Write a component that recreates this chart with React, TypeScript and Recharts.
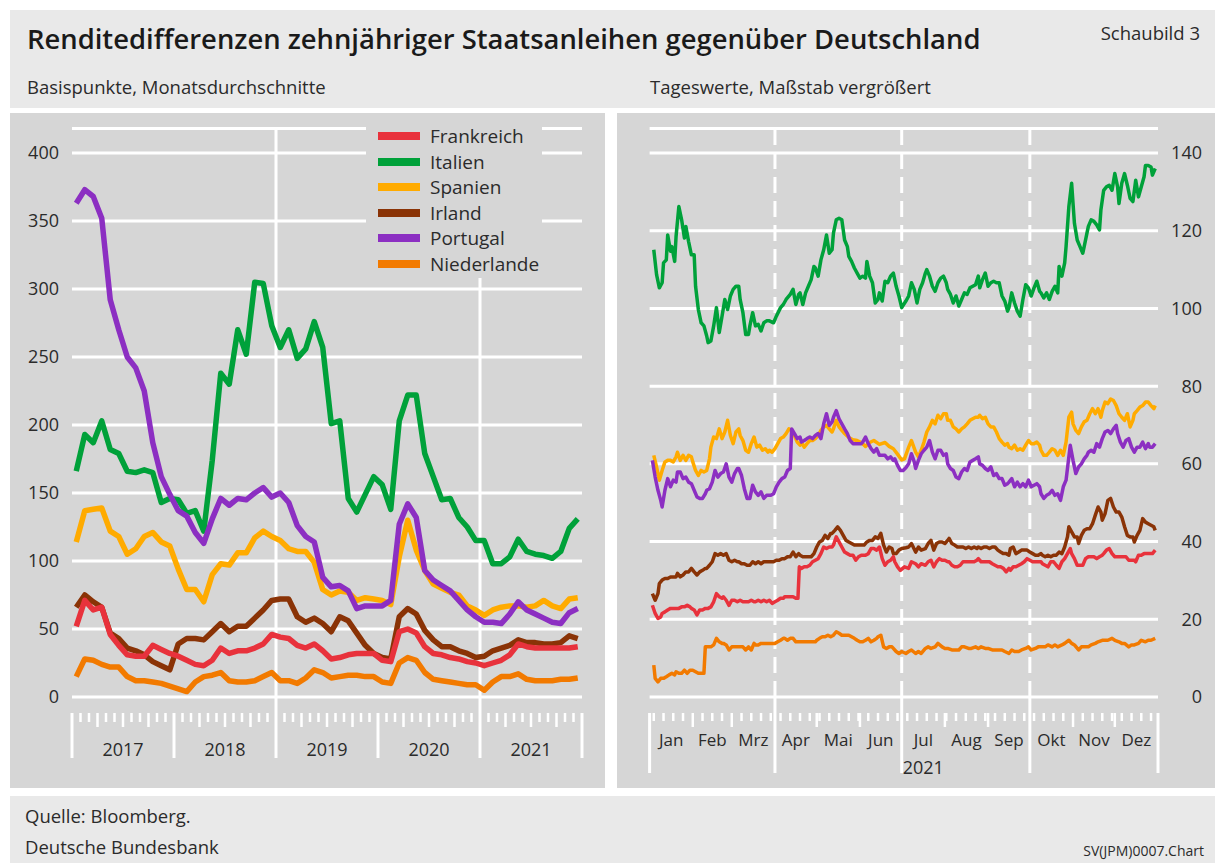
import React from 'react';
import { LineChart, Line, XAxis, YAxis, CartesianGrid, ReferenceLine, Legend } from 'recharts';

const FONT = '"Open Sans", "Noto Sans", "DejaVu Sans", sans-serif';
const TEXT = '#2b2b2b';
const PANEL = '#d6d6d6';
const BAND = '#e9e9e9';

const SERIES = [
  { key: 'fr', name: 'Frankreich', color: '#e8323c' },
  { key: 'it', name: 'Italien', color: '#00a13a' },
  { key: 'es', name: 'Spanien', color: '#ffab00' },
  { key: 'ie', name: 'Irland', color: '#8a3306' },
  { key: 'pt', name: 'Portugal', color: '#8c2fc2' },
  { key: 'nl', name: 'Niederlande', color: '#f27a00' },
];
const DRAW_ORDER = ['it', 'es', 'ie', 'fr', 'nl', 'pt'];

// ---------- Left panel: monthly averages, Jan 2017 – Dec 2021 (basis points) ----------
const yearLabels = ['2017', '2018', '2019', '2020', '2021'];
const leftYTicks = [0, 50, 100, 150, 200, 250, 300, 350, 400];

const frMonthly = [52, 71, 64, 66, 46, 38, 31, 30, 30, 38, 35, 32, 30, 27, 24, 23, 27, 36, 32, 34, 34, 36, 39, 46, 44, 43, 38, 36, 39, 34, 28, 29, 31, 32, 32, 32, 27, 26, 48, 50, 47, 37, 32, 31, 29, 28, 26, 25, 23, 25, 27, 31, 39, 37, 36, 36, 36, 36, 36, 37];
const itMonthly = [166, 193, 187, 203, 182, 179, 166, 165, 167, 165, 143, 146, 145, 135, 137, 122, 174, 238, 230, 270, 252, 305, 304, 273, 257, 270, 249, 256, 276, 257, 201, 203, 146, 136, 149, 162, 156, 138, 203, 222, 222, 179, 162, 145, 146, 132, 125, 115, 115, 98, 98, 103, 116, 107, 105, 104, 102, 107, 124, 131];
const esMonthly = [114, 137, 138, 139, 122, 118, 105, 109, 118, 121, 114, 111, 94, 79, 79, 70, 90, 98, 97, 106, 106, 117, 122, 118, 115, 109, 107, 107, 99, 79, 75, 78, 77, 71, 73, 72, 71, 68, 103, 130, 108, 93, 83, 80, 77, 75, 67, 64, 60, 64, 66, 67, 67, 66, 67, 71, 67, 65, 72, 73];
const ieMonthly = [66, 75, 70, 66, 47, 43, 36, 34, 31, 26, 23, 20, 39, 43, 43, 42, 48, 54, 48, 52, 52, 58, 64, 71, 72, 72, 59, 55, 58, 54, 48, 59, 56, 47, 38, 32, 29, 28, 59, 65, 61, 49, 42, 37, 37, 34, 32, 29, 30, 34, 36, 38, 42, 40, 40, 39, 39, 40, 45, 43];
const ptMonthly = [363, 373, 368, 352, 292, 270, 250, 242, 225, 187, 162, 149, 137, 133, 121, 113, 131, 146, 141, 146, 145, 150, 154, 147, 150, 143, 126, 118, 114, 88, 81, 82, 78, 65, 67, 67, 67, 71, 127, 142, 132, 93, 86, 82, 78, 71, 64, 59, 55, 55, 54, 61, 70, 64, 61, 58, 55, 54, 62, 65];
const nlMonthly = [15, 28, 27, 24, 22, 22, 15, 12, 12, 11, 10, 8, 6, 4, 11, 15, 16, 18, 12, 11, 11, 12, 15, 18, 12, 12, 10, 14, 20, 18, 14, 15, 16, 16, 15, 15, 11, 10, 25, 29, 27, 18, 13, 12, 11, 10, 9, 9, 5, 11, 15, 15, 17, 13, 12, 12, 12, 13, 13, 14];

const leftData = frMonthly.map((_, i) => ({
  m: i + 0.5,
  fr: frMonthly[i],
  it: itMonthly[i],
  es: esMonthly[i],
  ie: ieMonthly[i],
  pt: ptMonthly[i],
  nl: nlMonthly[i],
}));
const leftXTicks = Array.from({ length: 61 }, (_, i) => i);

// ---------- Right panel: daily values 2021 (day of year, basis points) ----------
const monthNames = ['Jan', 'Feb', 'Mrz', 'Apr', 'Mai', 'Jun', 'Jul', 'Aug', 'Sep', 'Okt', 'Nov', 'Dez'];
const monthStarts = [0, 31, 59, 90, 120, 151, 181, 212, 243, 273, 304, 334, 365];
const quarterStarts = [0, 90, 181, 273, 365];
const rightYTicks = [0, 20, 40, 60, 80, 100, 120, 140];

const itDaily: [number, number][] = [[3,115.1],[5,108.7],[7,105.3],[9,106.6],[10,111.7],[12,112.5],[13,118.9],[15,114.7],[16,115.9],[18,112.1],[19,118.5],[21,126.2],[23,122.8],[25,118.1],[26,121.1],[28,117.2],[30,113.8],[32,113.8],[33,105.7],[35,99.7],[37,96.3],[39,95.5],[41,92.9],[42,91.2],[44,91.6],[46,95.5],[48,100.2],[50,93.8],[52,98],[54,102.3],[56,99.7],[58,103.2],[60,104.9],[62,105.7],[64,105.7],[65,102.3],[67,98.9],[69,93.3],[71,93.3],[72,95.5],[74,98.9],[76,95.5],[78,95.9],[80,94.2],[82,96.3],[84,96.8],[86,96.8],[89,96.3],[91,98],[94,100.2],[96,101],[98,102.3],[101,103.6],[103,104.9],[105,101],[107,103.6],[108,104],[110,101],[112,104],[114,105.7],[116,107.4],[118,110.8],[119,110.4],[121,108.3],[123,112.5],[125,115.1],[127,118.9],[129,114.2],[131,115.1],[132,119.4],[134,122.8],[136,123.2],[138,122.8],[140,117.6],[142,115.9],[143,113.4],[145,112.1],[147,110.4],[149,109.1],[151,107.8],[153,108.3],[155,107.8],[156,112.1],[158,108.3],[160,106.6],[162,101.4],[164,102.3],[165,104],[167,101.9],[169,107],[171,106.6],[173,108.3],[175,109.1],[177,105.7],[179,103.2],[181,100.2],[184,101.9],[186,103.2],[188,106.6],[190,104.9],[192,101.4],[194,104.9],[196,106.6],[198,109.1],[199,110],[201,108.3],[203,105.7],[205,104.4],[207,106.6],[209,107.8],[211,108.3],[213,106.6],[214,104.9],[216,103.6],[218,101.4],[220,103.2],[222,100.6],[224,102.3],[226,104],[228,103.6],[230,105.3],[232,105.7],[234,106.1],[236,108.3],[237,105.3],[239,107.4],[241,109.1],[243,105.7],[245,106.6],[247,107],[249,106.6],[251,106.6],[253,103.2],[255,101.9],[257,99.3],[258,100.2],[260,104],[262,101.4],[264,99.3],[266,98],[268,102.3],[270,106.1],[272,105.3],[274,103.2],[276,105.3],[278,107],[280,104.4],[281,104],[283,102.7],[285,104],[287,102.3],[289,104.4],[291,105.7],[293,104],[294,110.8],[296,108.3],[298,111.7],[299,115.9],[301,126.2],[303,132.2],[304,127],[305,121.9],[307,117.6],[309,115.9],[311,114.2],[312,115.9],[314,119.4],[315,121.1],[317,122.8],[319,122.4],[321,121.5],[323,120.2],[324,125.3],[326,130.4],[328,131.3],[330,131.7],[332,130.4],[334,134.7],[336,131.3],[337,127],[339,132.2],[341,134.7],[343,131.7],[345,128.3],[347,127.5],[349,133],[351,128.7],[353,131.3],[355,133.9],[356,136.8],[358,136.8],[360,136.4],[361,134.3],[363,136]];

const esDaily: [number, number][] = [[3,62.2],[5,59.2],[7,55.8],[9,58.3],[11,60.5],[13,60.9],[15,60.9],[17,60.5],[19,61.8],[20,63],[22,60.9],[24,62.2],[26,60.9],[28,62.2],[30,61.8],[31,60.5],[33,58.3],[35,57],[37,58.3],[39,57.9],[41,58.3],[43,61.3],[44,64.3],[46,66.9],[48,66.5],[50,69],[52,66.5],[54,68.2],[56,71.2],[58,67.3],[60,65.2],[62,68.2],[64,69],[65,67.3],[67,66],[69,63.5],[71,63],[73,65.2],[75,66.9],[77,64.3],[79,64.8],[81,63.5],[83,63.9],[85,63],[86,63.5],[88,63],[90,63.9],[92,65.2],[94,66.5],[96,66.9],[98,67.8],[100,69],[102,68.6],[104,67.3],[106,65.6],[108,64.8],[109,65.6],[111,64.3],[113,65.2],[115,66],[117,66],[119,66.5],[121,67.3],[123,68.6],[125,69.5],[127,69.9],[129,69],[131,68.2],[132,69],[134,71.2],[136,69.5],[138,68.6],[140,67.8],[143,66.8],[146,66.2],[149,66],[152,65.5],[155,64.5],[158,65.5],[161,66],[165,65],[169,65.5],[172,64.5],[175,63.9],[178,62.5],[181,61],[183,61.3],[186,64.3],[188,66],[191,63],[193,61.8],[195,63.5],[197,65.6],[199,68.2],[201,69.5],[203,71.2],[205,70.3],[207,72.5],[209,71.6],[211,72.9],[213,72.9],[214,71.2],[216,71.2],[218,69.5],[220,69],[222,68.2],[224,69],[226,69.5],[228,70.3],[230,71.2],[232,71.6],[234,72],[236,72],[237,72.5],[239,71.6],[241,72],[243,70.3],[245,69.5],[247,69.5],[249,68.2],[251,66.5],[253,65.6],[255,64.8],[257,65.2],[258,64.3],[260,63.9],[262,64.8],[264,63.5],[266,63.9],[268,63.5],[270,64.8],[272,66],[274,65.2],[276,65.2],[278,65.6],[280,64.8],[281,63.5],[283,62.2],[285,62.2],[287,63],[289,63.9],[291,63.5],[293,62.2],[295,63.5],[297,62.2],[299,65.6],[301,72],[303,73.3],[304,70.3],[306,68.6],[308,67.8],[310,69.5],[312,70.8],[314,71.2],[316,72.9],[318,74.2],[320,72.9],[322,74.2],[324,72],[325,73.7],[327,75.9],[329,75.5],[331,76.7],[333,76.3],[335,75],[337,72.9],[339,72],[341,71.2],[343,72.9],[345,69.5],[347,71.2],[348,72.9],[350,73.7],[352,74.6],[354,75],[356,75.9],[358,75.9],[360,75],[362,74.2],[363,75]];

const ptDaily: [number, number][] = [[2,60.9],[4,56.6],[6,53.2],[8,50.6],[9,48.9],[11,53.2],[13,56.2],[15,54.1],[17,55.8],[19,55.3],[20,57.9],[22,57.9],[24,56.2],[26,56.6],[28,55.3],[30,54.9],[32,53.2],[34,51.5],[36,51.1],[38,51.1],[40,52.3],[41,53.2],[43,53.6],[45,55.3],[47,58.3],[49,56.6],[51,57.5],[53,57.9],[55,60],[57,56.6],[59,55.3],[61,57.5],[63,58.8],[64,58.8],[66,57],[68,53.6],[70,51.1],[72,51.1],[74,54.5],[76,52.8],[78,51.9],[80,52.8],[82,51.1],[84,51.9],[86,51.9],[87,51.9],[89,52.3],[91,54.1],[93,55.3],[95,56.2],[97,56.6],[99,58.3],[101,58.8],[102,69],[104,67.8],[106,66.5],[108,66.9],[109,65.6],[111,66],[113,66.5],[115,66.9],[117,66.5],[119,67.3],[121,67.8],[123,66.5],[125,70.3],[127,72.9],[129,69.9],[131,70.8],[132,72],[134,73.7],[136,71.6],[138,70.3],[140,69],[142,67.8],[144,66],[146,65.2],[148,65.2],[150,65.2],[152,65.2],[153,65.6],[155,66.9],[157,65.2],[159,63.9],[161,63],[163,63.9],[165,62.2],[167,62.2],[169,62.2],[171,61.3],[173,61.8],[175,60.9],[176,61.3],[178,59.6],[180,58.3],[182,58.3],[184,59],[186,60],[188,62.6],[190,60.5],[191,58.8],[193,60.9],[195,62.6],[197,63.5],[199,64.3],[201,66],[203,63],[205,61.3],[207,63.5],[209,63.5],[211,62.2],[213,62.6],[214,60],[216,58.8],[218,58.3],[220,56.6],[222,56.2],[224,57.9],[226,58.8],[228,58.3],[230,60.5],[232,60.9],[234,61.3],[236,61.8],[237,60],[239,59.6],[241,58.8],[243,58.3],[245,59.2],[247,57],[249,57.5],[251,56.2],[253,56.2],[255,54.5],[257,54.9],[258,55.3],[260,56.2],[262,54.1],[264,55.3],[266,54.1],[268,54.9],[270,54.1],[272,55.8],[274,54.1],[276,54.5],[278,54.9],[280,54.1],[281,52.3],[283,51.1],[285,51.9],[287,52.3],[289,53.2],[291,51.9],[293,52.3],[295,50.6],[297,54.1],[299,55.8],[301,61.8],[302,64.8],[304,60.9],[306,57.5],[308,59.2],[310,60],[312,61.3],[314,62.2],[315,63],[317,63.5],[319,63],[321,65.2],[323,64.3],[325,66.5],[327,68.2],[329,68.6],[331,67.8],[333,69],[335,69.9],[336,67.8],[338,65.6],[340,64.3],[342,66],[344,66.5],[346,64.3],[348,63],[350,64.3],[352,64.3],[354,65.6],[356,63.9],[358,65.2],[359,64.3],[361,64.3],[363,65.2]];

const ieDaily: [number, number][] = [[2,26.6],[4,24.9],[6,26.6],[7,29.2],[9,30.1],[11,30.5],[13,30.5],[15,30.9],[17,30.9],[19,30.9],[20,31.8],[22,30.9],[24,31.4],[26,32.2],[28,32.2],[30,33.1],[32,32.2],[34,31.4],[36,32.2],[38,32.6],[40,33.1],[41,33.1],[43,33.9],[45,34.8],[47,36.9],[49,36.5],[51,36.9],[53,36.5],[55,36.9],[57,35.2],[59,34.8],[61,35.2],[63,34.8],[64,34.8],[66,34.3],[68,34.3],[70,33.9],[72,33.9],[74,34.8],[76,34.3],[78,34.8],[80,34.3],[82,34.8],[84,34.8],[86,34.8],[87,34.8],[89,34.8],[91,35.2],[93,35.2],[95,35.6],[97,35.6],[99,36.1],[101,36.1],[103,37.3],[105,36.1],[107,36.9],[108,36.5],[110,36.1],[112,36.1],[114,36.1],[116,36.1],[118,36.9],[120,38.6],[122,39.9],[124,40.3],[126,41.6],[128,40.8],[130,42.1],[131,42.1],[133,42.9],[135,43.8],[137,42.9],[139,41.6],[141,40.3],[143,39.9],[145,39.5],[147,39.1],[149,39.1],[151,39.1],[153,39.1],[154,39.1],[156,39.9],[158,40.3],[160,40.3],[162,41.2],[164,40.8],[166,42.1],[168,39.1],[170,37.3],[172,38.6],[174,38.2],[175,36.9],[177,36.9],[179,37.8],[181,38.2],[184,38.4],[186,38.6],[188,39.5],[191,37.3],[193,38.6],[195,37.8],[198,38.2],[200,39.5],[202,40.3],[204,37.8],[206,39.5],[208,39.9],[210,39.9],[212,39.5],[214,40.3],[215,40.8],[217,39.5],[219,39.1],[221,38.6],[223,38.6],[225,38.6],[227,38.2],[229,38.6],[231,38.2],[233,38.6],[235,38.2],[236,38.6],[238,38.2],[240,38.6],[242,38.6],[244,38.2],[246,38.6],[248,38.6],[250,37.8],[252,37.3],[254,36.9],[256,36.9],[258,36.5],[259,38.2],[261,38.6],[263,36.9],[265,37.3],[267,37.8],[269,37.8],[271,37.8],[273,37.3],[275,36.9],[277,36.5],[279,36.5],[281,36.9],[282,36.5],[284,36.1],[286,36.5],[288,36.1],[290,36.5],[292,36.5],[294,37.3],[296,36.9],[298,38.6],[300,41.2],[301,43.8],[303,42.5],[305,41.2],[307,41.2],[308,39.5],[310,41.6],[312,42.9],[314,43.3],[316,43.3],[318,44.6],[320,46.8],[322,48.9],[324,47.6],[325,45.5],[327,47.2],[329,50.6],[331,51.1],[333,48.9],[335,47.6],[337,47.6],[339,46.3],[341,43.8],[343,41.6],[345,41.2],[347,41.2],[348,39.9],[350,41.6],[352,42.9],[354,45.9],[356,45],[358,44.6],[360,44.2],[362,43.8],[363,42.9]];

const frDaily: [number, number][] = [[2,23.6],[4,21.5],[6,20.2],[8,20.6],[9,21.5],[11,21.9],[13,22.4],[15,22.8],[17,22.8],[19,22.8],[21,22.8],[23,23.2],[25,23.2],[27,23.6],[29,23.2],[30,22.8],[32,22.4],[34,21.1],[36,22.4],[38,22.4],[40,22.8],[42,22.8],[44,23.2],[46,24.5],[48,26.6],[50,25.8],[52,25.4],[53,25.8],[55,24.9],[57,23.6],[59,24.9],[61,24.9],[63,24.5],[65,24.9],[67,24.5],[69,24.5],[71,24.5],[73,24.9],[75,24.5],[76,24.5],[78,24.9],[80,24.5],[82,24.9],[84,24.5],[86,24.9],[88,24.1],[90,24.5],[92,24.9],[94,25.4],[96,25.4],[97,25.8],[99,25.8],[101,25.8],[103,25.8],[105,25.4],[106.5,25.4],[107.5,33.5],[109,33.1],[111,33.5],[113,33.5],[115,33.9],[117,34.8],[119,35.2],[121,35.6],[123,36.9],[125,38.6],[127,38.2],[129,38.6],[131,38.6],[132,39.1],[134,41.2],[136,39.9],[138,38.6],[140,37.3],[142,36.9],[144,36.5],[146,36.5],[148,35.2],[150,36.1],[152,36.5],[153,36.5],[155,36.5],[157,36.9],[159,38.2],[161,38.2],[163,37.8],[165,38.6],[167,35.6],[169,33.9],[171,34.8],[173,35.2],[175,36.1],[176,34.8],[178,33.5],[180,32.6],[183,33.5],[186,33.1],[188,34.8],[191,34.3],[193,33.5],[195,34.3],[198,33.9],[200,34.8],[202,35.2],[204,33.5],[206,34.8],[208,35.6],[210,35.2],[212,35.2],[214,34.8],[215,34.8],[217,33.9],[219,33.5],[221,33.5],[223,33.9],[225,34.8],[227,34.8],[229,34.8],[231,34.8],[233,34.8],[235,35.2],[236,35.6],[238,34.8],[240,34.8],[242,34.8],[244,34.8],[246,34.3],[248,33.9],[250,33.5],[252,33.5],[254,33.1],[256,32.2],[258,33.1],[259,32.6],[261,33.5],[263,33.5],[265,33.9],[267,34.3],[269,34.8],[271,35.6],[273,35.2],[275,34.8],[277,34.8],[279,34.8],[281,34.8],[282,34.3],[284,33.9],[286,33.5],[288,34.8],[290,34.8],[292,33.9],[294,33.1],[296,34.8],[298,35.6],[300,36.9],[302,38.2],[303,36.9],[305,35.6],[307,33.9],[309,33.9],[311,33.9],[313,35.6],[315,36.1],[317,36.1],[319,36.1],[321,35.6],[323,36.1],[325,36.5],[326,36.9],[328,37.8],[330,38.2],[332,36.9],[334,36.1],[336,36.1],[338,36.1],[340,36.1],[342,36.1],[344,35.2],[346,35.2],[348,35.2],[349,34.8],[351,36.5],[353,36.5],[355,36.9],[357,36.9],[359,36.9],[361,36.9],[363,37.8]];

const nlDaily: [number, number][] = [[3,8.2],[4,4.8],[6,3.9],[8,4.8],[10,4.8],[12,5.2],[14,5.7],[16,6.1],[18,5.7],[19,6.5],[21,6.1],[23,6.1],[25,6.9],[27,6.1],[29,6.9],[31,6.9],[33,6.5],[35,6.1],[37,6.1],[39,6.1],[40,12.9],[42,12.9],[44,12.9],[46,13.4],[48,15.1],[50,14.2],[52,13.8],[53,13.8],[55,13.4],[57,12.1],[59,12.9],[61,12.9],[63,12.9],[65,12.9],[67,12.9],[69,12.1],[71,12.9],[73,12.1],[75,13.8],[76,13.4],[78,13.4],[80,13.8],[82,13.8],[84,13.8],[86,13.8],[88,13.8],[90,13.8],[92,14.2],[94,14.6],[96,15.1],[97,15.1],[99,14.6],[101,15.1],[103,15.1],[105,14.2],[107,14.2],[109,14.2],[111,14.2],[113,14.2],[115,14.2],[117,14.2],[119,14.2],[120,14.6],[122,15.1],[124,15.5],[126,15.5],[128,15.9],[130,15.5],[132,15.9],[134,16.8],[136,16.4],[138,15.9],[140,15.9],[142,15.9],[143,15.9],[145,15.5],[147,15.1],[149,14.6],[151,14.2],[153,14.2],[155,14.6],[157,15.1],[159,14.2],[161,14.6],[163,15.1],[164,15.5],[166,15.9],[168,12.9],[170,12.5],[172,12.9],[174,12.9],[175,12.5],[177,11.7],[179,11.2],[181,11.7],[184,11.2],[186,11.7],[188,12.1],[191,11.2],[193,11.7],[195,11.2],[198,12.5],[200,12.9],[202,12.5],[205,12.9],[207,13.8],[210,12.9],[212,12.5],[214,12.5],[217,12.1],[219,12.1],[222,12.1],[224,12.9],[226,12.9],[229,12.5],[231,12.5],[234,12.9],[236,12.5],[238,12.9],[241,12.5],[243,12.5],[246,12.1],[248,12.1],[250,12.1],[253,12.1],[255,11.7],[258,11.2],[260,12.1],[262,11.7],[265,11.7],[267,12.1],[270,12.5],[272,12.9],[274,12.1],[277,12.5],[279,12.9],[281,12.9],[284,12.9],[286,13.4],[289,12.9],[291,13.4],[293,12.9],[296,13.4],[298,13.8],[301,14.6],[303,13.8],[305,13.4],[308,12.1],[310,12.9],[313,12.9],[315,12.9],[317,13.4],[320,13.8],[322,14.2],[325,14.6],[327,14.6],[329,14.6],[332,15.1],[334,14.6],[337,14.2],[339,13.8],[341,13.8],[344,12.9],[346,13.4],[348,13.4],[351,13.8],[353,14.6],[356,14.2],[358,14.6],[360,14.6],[363,15.1]];

const dailyByKey: Record<string, { d: number; v: number }[]> = {
  fr: frDaily.map(([d, v]) => ({ d, v })),
  it: itDaily.map(([d, v]) => ({ d, v })),
  es: esDaily.map(([d, v]) => ({ d, v })),
  ie: ieDaily.map(([d, v]) => ({ d, v })),
  pt: ptDaily.map(([d, v]) => ({ d, v })),
  nl: nlDaily.map(([d, v]) => ({ d, v })),
};

const weekTicks = Array.from({ length: 52 }, (_, i) => 3 + 7 * i).filter((d) => !monthStarts.includes(d));
const monthMids = monthStarts.slice(0, 12).map((s, i) => (s + monthStarts[i + 1]) / 2 + 0.01);
const rightXTicks = [...new Set([...weekTicks, ...monthStarts, ...monthMids])].sort((a, b) => a - b);

const seriesOf = (k: string) => SERIES.find((s) => s.key === k)!;

// ---------- ticks ----------
const LeftYTick = (p: any) => (
  <text x={p.x - 13} y={p.y} dy="0.36em" textAnchor="end" fontSize={18} fill={TEXT} fontFamily={FONT}>
    {p.payload.value}
  </text>
);

const RightYTick = (p: any) => (
  <text x={p.x + 44} y={p.y} dy="0.36em" textAnchor="end" fontSize={18} fill={TEXT} fontFamily={FONT}>
    {p.payload.value}
  </text>
);

const LeftXTick = (p: any) => {
  const m = p.payload.value as number;
  const { x, y } = p;
  let line;
  if (m % 12 === 0) {
    const y0 = m === 24 || m === 48 ? y : y + 16;
    line = <line x1={x} x2={x} y1={y0} y2={y + 61} stroke="#fff" strokeWidth={3} />;
  } else if (m % 3 === 0) {
    line = <line x1={x} x2={x} y1={y + 16} y2={y + 30} stroke="#fff" strokeWidth={2.5} />;
  } else {
    line = <line x1={x} x2={x} y1={y + 16} y2={y + 25} stroke="#fff" strokeWidth={2.5} />;
  }
  const label =
    m % 12 === 6 ? (
      <text x={x} y={y + 59} textAnchor="middle" fontSize={18} fill={TEXT} fontFamily={FONT}>
        {yearLabels[(m - 6) / 12]}
      </text>
    ) : null;
  return (
    <g>
      {line}
      {label}
    </g>
  );
};

const RightXTick = (p: any) => {
  const d = p.payload.value as number;
  const { x, y } = p;
  const midIdx = monthMids.indexOf(d);
  if (midIdx >= 0) {
    return (
      <g>
        <text x={x} y={y + 49} textAnchor="middle" fontSize={17} fill={TEXT} fontFamily={FONT}>
          {monthNames[midIdx]}
        </text>
        {midIdx === 6 ? (
          <text x={x} y={y + 77} textAnchor="middle" fontSize={18} fill={TEXT} fontFamily={FONT}>
            2021
          </text>
        ) : null}
      </g>
    );
  }
  if (quarterStarts.includes(d)) {
    const y0 = d === 0 || d === 365 ? y + 16 : y;
    return <line x1={x} x2={x} y1={y0} y2={y + 76} stroke="#fff" strokeWidth={3} />;
  }
  if (monthStarts.includes(d)) {
    return <line x1={x} x2={x} y1={y + 16} y2={y + 30} stroke="#fff" strokeWidth={2.5} />;
  }
  return <line x1={x} x2={x} y1={y + 16} y2={y + 24} stroke="#fff" strokeWidth={2.5} />;
};

const LegendBox = () => (
  <div style={{ background: PANEL, width: 176, height: 160, position: 'relative', fontFamily: FONT }}>
    {SERIES.map((s, i) => (
      <div
        key={s.key}
        style={{ position: 'absolute', left: 0, top: 5 + 25.6 * i, height: 26, display: 'flex', alignItems: 'center' }}
      >
        <div style={{ marginLeft: 12, width: 42, height: 8, background: s.color }} />
        <span style={{ marginLeft: 10, fontSize: 19, color: TEXT, lineHeight: '26px', whiteSpace: 'nowrap' }}>{s.name}</span>
      </div>
    ))}
  </div>
);

const abs = (l: number, t: number, extra: React.CSSProperties = {}): React.CSSProperties => ({
  position: 'absolute',
  left: l,
  top: t,
  ...extra,
});

export default function App() {
  return (
    <div style={abs(0, 0, { width: 1215, height: 863, background: '#ffffff', overflow: 'hidden', fontFamily: FONT, color: TEXT })}>
      {/* header band */}
      <div style={abs(10, 10, { width: 1205, height: 98, background: BAND })} />
      <div style={abs(27, 25, { fontSize: 27.4, fontWeight: 600, lineHeight: '27px', color: '#1a1a1a', whiteSpace: 'nowrap' })}>
        Renditedifferenzen zehnjähriger Staatsanleihen gegenüber Deutschland
      </div>
      <div style={abs(1200, 24, { fontSize: 18.5, lineHeight: '18px', whiteSpace: 'nowrap', transform: 'translateX(-100%)' })}>
        Schaubild 3
      </div>
      <div style={abs(27, 78, { fontSize: 18.5, lineHeight: '18px', whiteSpace: 'nowrap' })}>Basispunkte, Monatsdurchschnitte</div>
      <div style={abs(650, 78, { fontSize: 18.5, lineHeight: '18px', whiteSpace: 'nowrap' })}>Tageswerte, Maßstab vergrößert</div>

      {/* panels */}
      <div style={abs(10, 113, { width: 595, height: 675, background: PANEL })} />
      <div style={abs(617, 113, { width: 598, height: 675, background: PANEL })} />

      {/* footer band */}
      <div style={abs(10, 796, { width: 1205, height: 67, background: BAND })} />
      <div style={abs(25, 807, { fontSize: 18.5, lineHeight: '18px', whiteSpace: 'nowrap' })}>Quelle: Bloomberg.</div>
      <div style={abs(25, 838, { fontSize: 18.5, lineHeight: '18px', whiteSpace: 'nowrap' })}>Deutsche Bundesbank</div>
      <div style={abs(1204, 844, { fontSize: 14, lineHeight: '14px', whiteSpace: 'nowrap', transform: 'translateX(-100%)' })}>
        SV(JPM)0007.Chart
      </div>

      {/* left chart */}
      <div style={abs(10, 113)}>
        <LineChart width={595} height={675} data={leftData} margin={{ top: 15.5, right: 23, bottom: 0, left: 0 }}>
          <CartesianGrid vertical={false} stroke="#ffffff" strokeWidth={3} />
          <XAxis
            type="number"
            dataKey="m"
            domain={[0, 60]}
            ticks={leftXTicks}
            interval={0}
            tick={LeftXTick}
            tickLine={false}
            axisLine={false}
            tickSize={0}
            tickMargin={0}
            height={91}
            allowDataOverflow
          />
          <YAxis
            type="number"
            domain={[0, 418]}
            ticks={leftYTicks}
            interval={0}
            tick={LeftYTick}
            tickLine={false}
            axisLine={false}
            tickSize={0}
            tickMargin={0}
            width={62}
            allowDataOverflow
          />
          <ReferenceLine x={24} stroke="#ffffff" strokeWidth={3} />
          <ReferenceLine x={48} stroke="#ffffff" strokeWidth={3} />
          {DRAW_ORDER.map((k) => (
            <Line
              key={k}
              type="linear"
              dataKey={k}
              name={seriesOf(k).name}
              stroke={seriesOf(k).color}
              strokeWidth={5.5}
              strokeLinejoin="round"
              dot={false}
              activeDot={false}
              isAnimationActive={false}
            />
          ))}
          <Legend
            layout="vertical"
            align="center"
            verticalAlign="middle"
            content={() => <LegendBox />}
            wrapperStyle={{ left: 356, top: 5, width: 176, height: 160, margin: 0 }}
          />
        </LineChart>
      </div>

      {/* right chart */}
      <div style={abs(617, 113)}>
        <LineChart width={598} height={675} margin={{ top: 15.5, right: 0, bottom: 0, left: 32.6 }}>
          <CartesianGrid vertical={false} stroke="#ffffff" strokeWidth={3} />
          <XAxis
            type="number"
            dataKey="d"
            domain={[0, 365]}
            ticks={rightXTicks}
            interval={0}
            tick={RightXTick}
            tickLine={false}
            axisLine={false}
            tickSize={0}
            tickMargin={0}
            height={91}
            allowDataOverflow
          />
          <YAxis
            orientation="right"
            type="number"
            domain={[0, 146.3]}
            ticks={rightYTicks}
            interval={0}
            tick={RightYTick}
            tickLine={false}
            axisLine={false}
            tickSize={0}
            tickMargin={0}
            width={57}
            allowDataOverflow
          />
          {[90, 181, 273].map((d) => (
            <ReferenceLine key={d} x={d} stroke="#ffffff" strokeWidth={3} strokeDasharray="16 8" />
          ))}
          {DRAW_ORDER.map((k) => (
            <Line
              key={k}
              data={dailyByKey[k]}
              type="linear"
              dataKey="v"
              name={seriesOf(k).name}
              stroke={seriesOf(k).color}
              strokeWidth={3.5}
              strokeLinejoin="round"
              dot={false}
              activeDot={false}
              isAnimationActive={false}
            />
          ))}
        </LineChart>
      </div>
    </div>
  );
}
